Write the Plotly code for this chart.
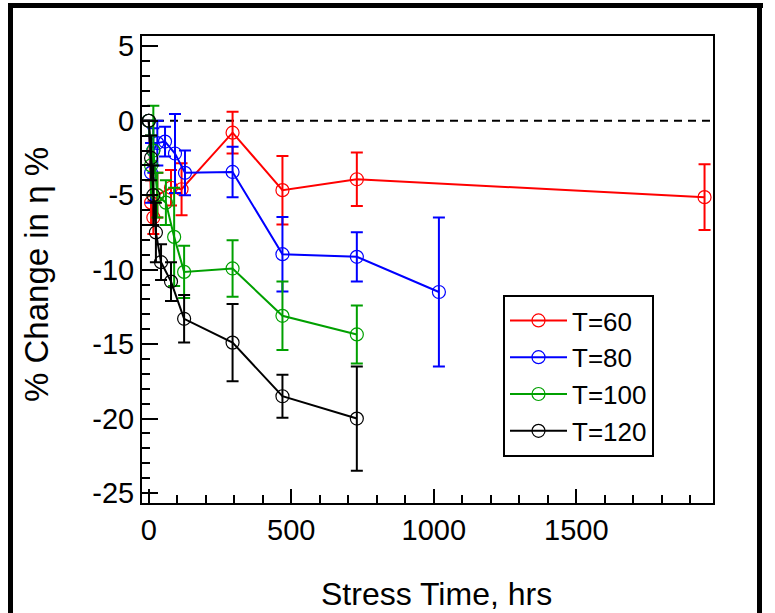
import plotly.graph_objects as go

# ---------------- data ----------------
series_names = ["T=60", "T=80", "T=100", "T=120"]
series_colors = ["#ff0000", "#0000ff", "#00a000", "#000000"]

t_60 = [0, 8, 16, 30, 78, 115, 294, 469, 730, 1950]
y_60 = [0, -5.5, -6.5, -5.0, -4.5, -4.6, -0.8, -4.66, -3.93, -5.13]
e_60 = [0, 1.5, 1.1, 1.5, 1.2, 1.75, 1.4, 2.3, 1.8, 2.2]

t_80 = [0, 8, 16, 30, 57, 92, 127, 294, 469, 730, 1018]
y_80 = [0, -3.5, -2.0, -1.5, -1.4, -2.2, -3.5, -3.44, -8.96, -9.14, -11.5]
e_80 = [0, 2.0, 1.5, 1.5, 1.0, 2.65, 1.5, 1.7, 2.5, 1.65, 5.0]

t_100 = [0, 8, 16, 30, 60, 89, 124, 294, 469, 730]
y_100 = [0, -3.0, -2.0, -5.0, -5.5, -7.8, -10.15, -9.92, -13.1, -14.35]
e_100 = [0, 2.0, 3.0, 1.5, 1.5, 3.3, 1.75, 1.9, 2.3, 1.95]

t_120 = [0, 8, 16, 25, 43, 78, 124, 294, 469, 730]
y_120 = [0, -2.5, -5.0, -7.5, -9.5, -10.8, -13.3, -14.9, -18.5, -20.0]
e_120 = [0, 1.5, 2.0, 2.0, 1.2, 1.3, 1.6, 2.6, 1.45, 3.5]

x_ticks = [0, 500, 1000, 1500]
x_tick_text = ["0", "500", "1000", "1500"]
y_ticks = [5, 0, -5, -10, -15, -20, -25]
y_tick_text = ["5", "0", "-5", "-10", "-15", "-20", "-25"]

x_title = "Stress Time, hrs"
y_title = "% Change in η %"

# ---------------- figure ----------------
FONT = "Liberation Sans, Arial, sans-serif"

fig = go.Figure()
all_t = [t_60, t_80, t_100, t_120]
all_y = [y_60, y_80, y_100, y_120]
all_e = [e_60, e_80, e_100, e_120]
for name, col, t, y, e in zip(series_names, series_colors, all_t, all_y, all_e):
    fig.add_trace(go.Scatter(
        x=t, y=y, name=name, mode="lines+markers",
        line=dict(color=col, width=2),
        marker=dict(symbol="circle-open", size=13, color=col, line=dict(width=1.2, color=col)),
        error_y=dict(type="data", array=e, visible=True, color=col, thickness=2, width=6),
    ))

# zero reference line
fig.add_shape(type="line", xref="paper", yref="y", x0=0, x1=1, y0=0, y1=0,
              line=dict(color="black", width=2, dash="8px,6px"), layer="below")

# pixel -> paper helpers (plot area of the original picture)
L, R, T, B = 142, 713, 36, 503
W, H = R - L, B - T
def px(X):
    return (X - L) / W
def py(Y):
    return (B - Y) / H

# outer frame (thick black borders of the original picture)
for x0, y0, x1, y1 in [(8, 3, 763, 8), (8, 3, 13, 613), (757, 3, 762, 613)]:
    fig.add_shape(type="rect", xref="paper", yref="paper",
                  x0=px(x0), x1=px(x1), y0=py(y1), y1=py(y0),
                  fillcolor="black", line=dict(width=0))

fig.add_annotation(text=x_title, xref="paper", yref="paper", x=px(436), y=py(594),
                   showarrow=False, font=dict(family=FONT, size=32, color="black"),
                   xanchor="center", yanchor="middle")
fig.add_annotation(text=y_title, xref="paper", yref="paper", x=px(36), y=py(275),
                   showarrow=False, textangle=-90, font=dict(family=FONT, size=33, color="black"),
                   xanchor="center", yanchor="middle")

fig.update_layout(
    width=775, height=613,
    margin=dict(l=L, r=775 - R, t=T, b=613 - B),
    paper_bgcolor="white", plot_bgcolor="white",
    font=dict(family=FONT, size=29, color="black"),
    showlegend=True,
    legend=dict(
        x=px(503), y=py(295), xanchor="left", yanchor="top",
        bgcolor="white", bordercolor="black", borderwidth=2,
        font=dict(family=FONT, size=26, color="black"),
        itemwidth=57, tracegroupgap=0,
    ),
)
fig.update_xaxes(
    range=[-23.8, 1979.7], tickvals=x_ticks, ticktext=x_tick_text,
    ticks="inside", ticklen=14, tickwidth=1.5,
    tickcolor="black", showline=True, linecolor="black", linewidth=2, mirror=True,
    showgrid=False, zeroline=False, ticklabelstandoff=0,
    minor=dict(ticks="inside", ticklen=8, tickwidth=1.5, dtick=100, tick0=0, tickcolor="black", showgrid=False),
)
fig.update_yaxes(
    range=[-25.67, 5.69], tickvals=y_ticks, ticktext=y_tick_text,
    ticks="inside", ticklen=16, tickwidth=1.5,
    tickcolor="black", showline=True, linecolor="black", linewidth=2, mirror=True,
    showgrid=False, zeroline=False, ticklabelstandoff=0,
    minor=dict(ticks="inside", ticklen=8, tickwidth=1.5, dtick=1, tick0=0, tickcolor="black", showgrid=False),
)

fig.write_html("out.html", config={"displayModeBar": False},
               post_script="document.body.style.margin='0px';")
